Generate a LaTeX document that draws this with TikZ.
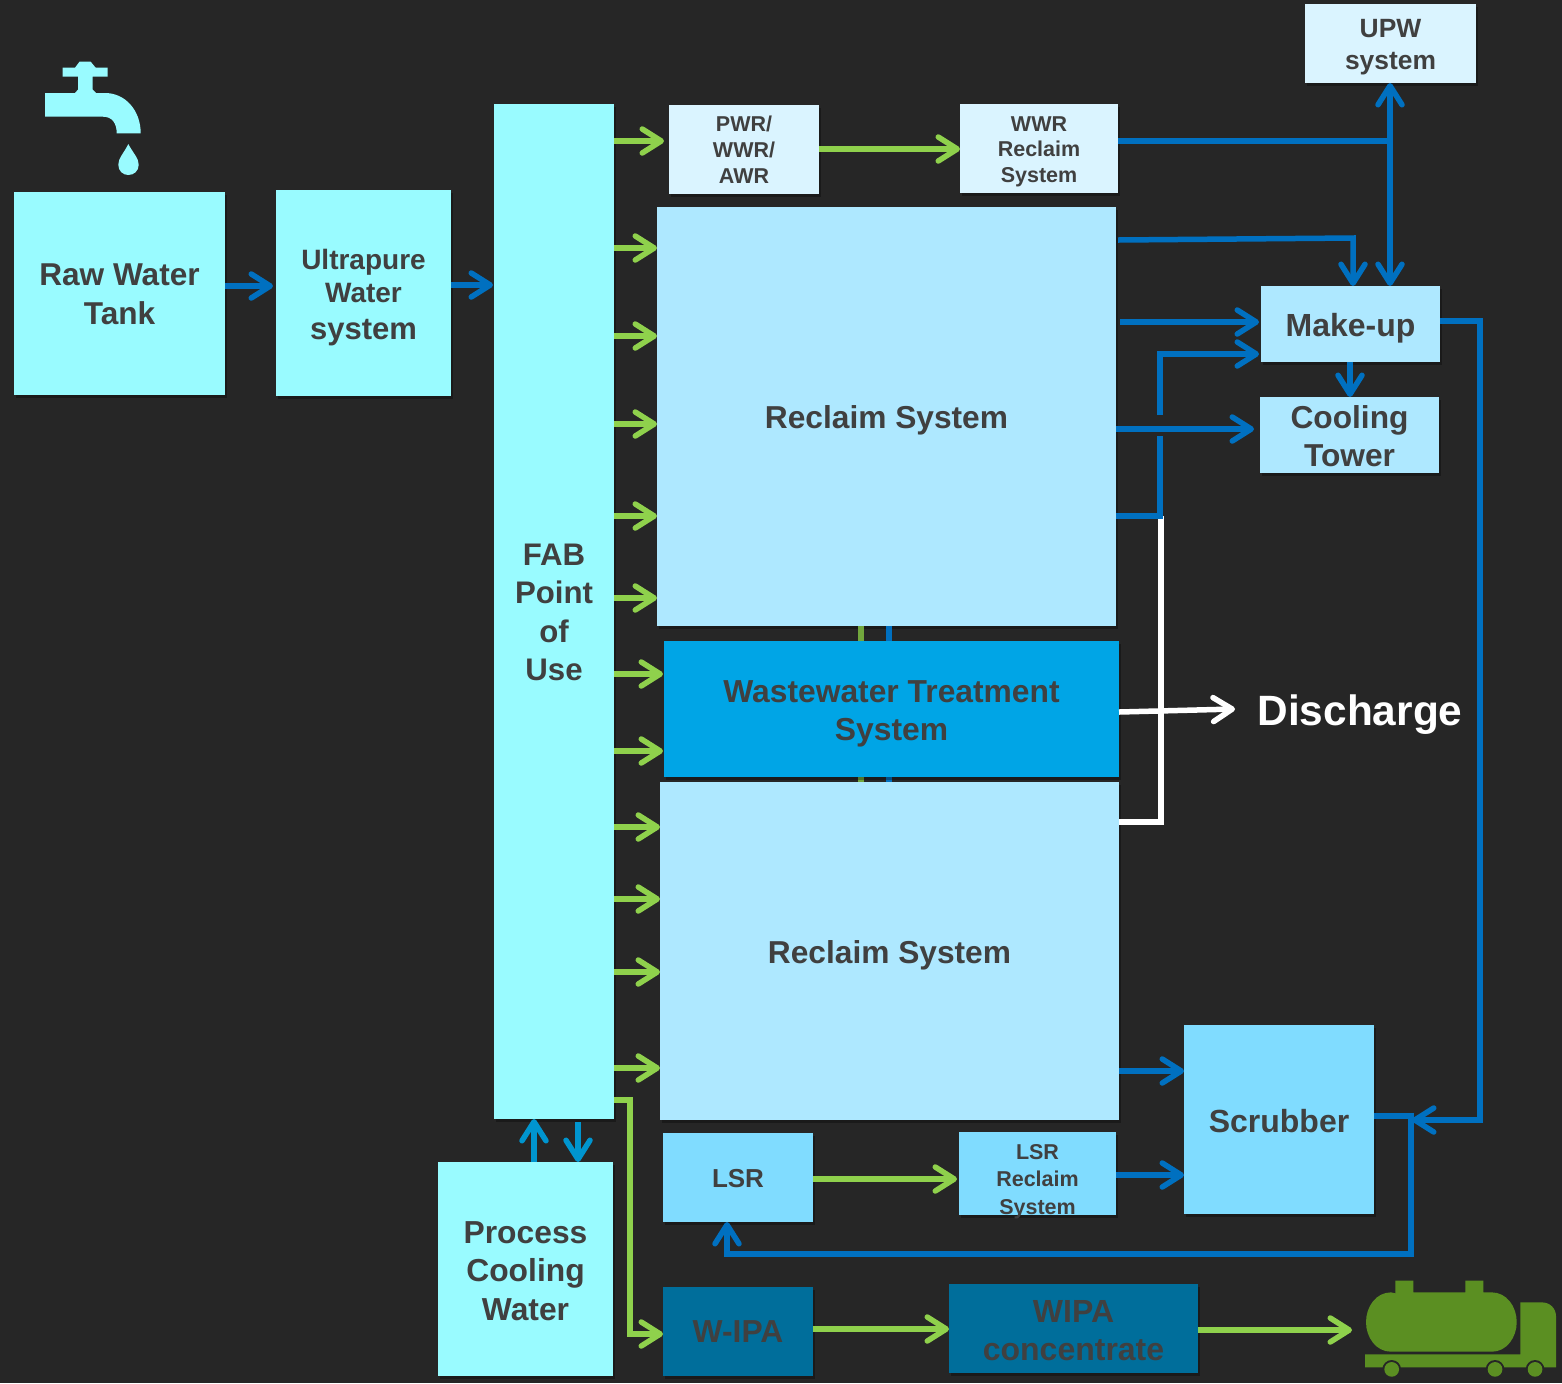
\documentclass[tikz,border=0pt]{standalone}
\usepackage{fontspec}
\setmainfont{Liberation Sans}
\usetikzlibrary{arrows.meta,shadows}
\definecolor{bg}{HTML}{262626}
\definecolor{cyanbox}{HTML}{99FBFF}
\definecolor{lightbox}{HTML}{AEE8FF}
\definecolor{paleb}{HTML}{DAF4FF}
\definecolor{midbox}{HTML}{80DCFF}
\definecolor{wwbox}{HTML}{00A5E6}
\definecolor{darkbox}{HTML}{006E9B}
\definecolor{txt}{HTML}{404040}
\definecolor{flowblue}{HTML}{0070C0}
\definecolor{flowgreen}{HTML}{8FD14C}
\definecolor{pcwblue}{HTML}{0095CF}
\definecolor{truckgreen}{HTML}{5B8F22}
% text block: vertical nudge (px), size (pt), leading (pt), lines; occupies no height so it centres exactly
\newcommand\tx[4]{{\fontsize{#2}{#3}\selectfont\bfseries\color{txt}\raisebox{\dimexpr #1pt/2 - 0.4em\relax}[0pt][0pt]{\begin{tabular}{@{}c@{}}#4\end{tabular}}}}
\newcommand\bx[7][]{\node[boxbase,#1,minimum width={(#4-#2)*0.5pt},minimum height={(#5-#3)*0.5pt}] (#6) at ({(#2+#4)/2},{(#3+#5)/2}) {#7};}
\tikzset{
 boxbase/.style={inner sep=0pt,outer sep=0pt,draw=none,rectangle,
   general shadow={fill=black,opacity=.3,shadow xshift=1pt,shadow yshift=-1.5pt}},
 flow/.style={line width=2.75pt,line join=miter,-{Straight Barb[length=9.5pt,width=12pt,round]}},
 pipe/.style={line width=2.75pt,line join=miter},
 blueflow/.style={flow,draw=flowblue},
 greenflow/.style={flow,draw=flowgreen},
 whiteflow/.style={flow,draw=white},
 pcwflow/.style={flow,draw=pcwblue},
}
\begin{document}
\begin{tikzpicture}[x=0.5pt,y=-0.5pt]
\useasboundingbox (0,0) rectangle (1562,1383);
\fill[bg] (0,0) rectangle (1562,1383);
% faucet
\fill[cyanbox] (45,93) -- (75,93) -- (78,89.5) -- (78,76.7) -- (62.7,76.7) -- (62.7,67.7) -- (75,67.7) -- (79.5,61.7) -- (90.7,61.7) -- (95.7,67.7) -- (107.7,67.7) -- (107.7,76.7) -- (92.7,76.7) -- (92.7,89.5) -- (96,93) -- (105,93) .. controls (125,93) and (140.7,110) .. (140.7,133.3) -- (116.7,133.3) .. controls (116.7,123) and (112,116.7) .. (103,116.7) -- (45,116.7) -- cycle;
\fill[cyanbox] (128.3,144) .. controls (124,153) and (118.3,158) .. (118.3,164.7) .. controls (118.3,171) and (123,175) .. (128.3,175) .. controls (134,175) and (138.7,171) .. (138.7,164.7) .. controls (138.7,158) and (133,153) .. (128.3,144) -- cycle;
% truck
\begin{scope}[shift={(1340,1260)},x=0.1667pt,y=-0.1667pt]
\fill[truckgreen] (166,100) -- (166,62) -- (220,62) -- (220,97) -- (376,97) -- (376,62) -- (430,62) -- (430,97) -- (455,97) .. controls (500,97) and (530,140) .. (530,186) .. controls (530,232) and (500,275) .. (455,275) -- (153,275) .. controls (108,275) and (78,232) .. (78,186) .. controls (78,140) and (108,97) .. (153,97) -- cycle;
\fill[truckgreen] (75,283) -- (541,283) -- (541,127) -- (605,127) .. controls (630,127) and (648,145) .. (648,170) -- (648,322) -- (75,322) -- cycle;
\fill[bg] (155,328) circle (28) (465,328) circle (28) (585,328) circle (28);
\fill[truckgreen] (155,328) circle (22) (465,328) circle (22) (585,328) circle (22);
\end{scope}
% boxes
\bx[fill=cyanbox]{14}{192}{225}{395}{raw}{\tx{1.5}{15.8}{19.5}{Raw Water\\Tank}}
\bx[fill=cyanbox]{276}{190}{451}{396}{uw}{\tx{0}{14}{17.5}{Ultrapure\\[-1pt]Water\\[1pt]\fontsize{15.5}{17.5}\selectfont system}}
\bx[fill=cyanbox]{494}{104}{614}{1119}{fab}{\tx{1.5}{15.6}{19.25}{FAB\\Point\\of\\Use}}
\bx[fill=paleb]{669}{105}{819}{194}{pwr}{\tx{0}{10.75}{13}{PWR/\\WWR/\\AWR}}
\bx[fill=paleb]{960}{104}{1118}{193}{wwr}{\tx{0}{10.75}{12.75}{WWR\\Reclaim\\System}}
\bx[fill=paleb]{1305}{4}{1476}{83}{upw}{\tx{1}{13.2}{16}{UPW\\system}}
\bx[fill=lightbox]{657}{207}{1116}{626}{recA}{\tx{0}{15.85}{19}{Reclaim System}}
\bx[fill=lightbox]{660}{782}{1119}{1120}{recB}{\tx{-1}{15.85}{19}{Reclaim System}}
\bx[fill=lightbox]{1261}{286}{1440}{362}{makeup}{\tx{-1}{16}{19}{Make-up}}
\bx[fill=lightbox]{1260}{397}{1439}{473}{cooling}{\tx{-0.5}{15.85}{19.25}{Cooling\\Tower}}
\bx[fill=midbox]{1184}{1025}{1374}{1214}{scrub}{\tx{-1.5}{16}{19}{Scrubber}}
\bx[fill=midbox]{663}{1133}{813}{1222}{lsr}{\tx{1}{13}{16}{LSR}}
\bx[fill=midbox]{959}{1132}{1116}{1215}{lsrrec}{\tx{-4.5}{10.75}{13.75}{LSR\\Reclaim\\System}}
\bx[fill=cyanbox]{438}{1162}{613}{1376}{pcw}{\tx{-1}{15.9}{19.25}{Process\\Cooling\\Water}}
\bx[fill=darkbox]{663}{1287}{813}{1376}{wipa}{\tx{1}{15.9}{19}{W-IPA}}
\bx[fill=darkbox]{949}{1284}{1198}{1373}{conc}{\tx{-1.5}{16}{19}{WIPA\\concentrate}}
\node[inner sep=0pt,font=\fontsize{21.2}{25}\selectfont\bfseries,text=white] (dis) at (1360,715) {Discharge};
% links hidden behind the wastewater box
\draw[pipe,draw=flowgreen!80!black] (recA.south -| 861,0) -- (recB.north -| 861,0);
\draw[pipe,draw=flowblue] (recA.south -| 889,0) -- (recB.north -| 889,0);
\bx[fill=wwbox]{664}{641}{1119}{777}{ww}{\tx{-0.5}{15.9}{19}{Wastewater Treatment\\System}}
% feed
\draw[blueflow,shorten >=1.5pt] (raw.east |- 0,286) -- (uw.west |- 0,286);
\draw[blueflow,shorten >=.5pt] (uw.east |- 0,285) -- (fab.west |- 0,285);
% fab outputs
\draw[greenflow,shorten >=2.5pt] (fab.east |- 0,141) -- (pwr.west |- 0,141);
\foreach \yy in {248,336,424,516,598}
  \draw[greenflow] (fab.east |- 0,\yy) -- (recA.west |- 0,\yy);
\foreach \yy in {674,751}
  \draw[greenflow,shorten >=.5pt] (fab.east |- 0,\yy) -- (ww.west |- 0,\yy);
\foreach \yy in {827,899,972,1068}
  \draw[greenflow] (fab.east |- 0,\yy) -- (recB.west |- 0,\yy);
\draw[greenflow] (pwr.east |- 0,149) -- (wwr.west |- 0,149);
\draw[greenflow,shorten >=1pt] (lsr.east |- 0,1179) -- (lsrrec.west |- 0,1179);
\draw[greenflow] (fab.east |- 0,1100) -- (630,1100) -- (630,1334) -- (wipa.west |- 0,1334);
\draw[greenflow] (wipa.east |- 0,1329) -- (conc.west |- 0,1329);
\coordinate (truck) at (1352,1330);
\draw[greenflow] (conc.east |- truck) -- (truck);
% pcw
\draw[pcwflow] (pcw.north -| 534,0) -- (fab.south -| 534,0);
\draw[pcwflow] (fab.south -| 578,0) ++(0,3) -- (pcw.north -| 578,0);
% upper right network
\draw[pipe,draw=flowblue] (wwr.east |- 0,141) -- (1390,141);
\draw[blueflow,{Straight Barb[length=9.5pt,width=12pt,round]}-{Straight Barb[length=9.5pt,width=12pt,round]}] (upw.south -| 1390,0) -- (makeup.north -| 1390,0);
\draw[blueflow] (recA.east |- 0,240) ++(2,0) -- (1353,238) -- (makeup.north -| 1353,0);
\draw[blueflow,shorten >=1pt] (recA.east |- 0,322) ++(4,0) -- (makeup.west |- 0,322);
\draw[blueflow,shorten >=1pt] (1160,415) -- (1160,354) -- (makeup.west |- 0,354);
\draw[blueflow,shorten >=3pt] (recA.east |- 0,429) -- (cooling.west |- 0,429);
\draw[blueflow] (makeup.south -| 1350,0) -- (cooling.north -| 1350,0);
% discharge
\draw[pipe,draw=white] (recB.east |- 0,822) -- (1161,822) -- (1161,516);
\draw[whiteflow] (ww.east |- 0,712) -- (1235,709);
\draw[pipe,draw=flowblue] (recA.east |- 0,516) -- (1160,516) -- (1160,436);
% lower right network
\draw[blueflow] (makeup.east |- 0,321) -- (1480,321) -- (1480,1120) -- (1412,1120);
\draw[blueflow] (scrub.east |- 0,1116) -- (1411,1116) -- (1411,1254) -- (727,1254) -- (lsr.south -| 727,0);
\draw[blueflow] (recB.east |- 0,1071) -- (scrub.west |- 0,1071);
\draw[blueflow] (lsrrec.east |- 0,1175) -- (scrub.west |- 0,1175);
\end{tikzpicture}
\end{document}
